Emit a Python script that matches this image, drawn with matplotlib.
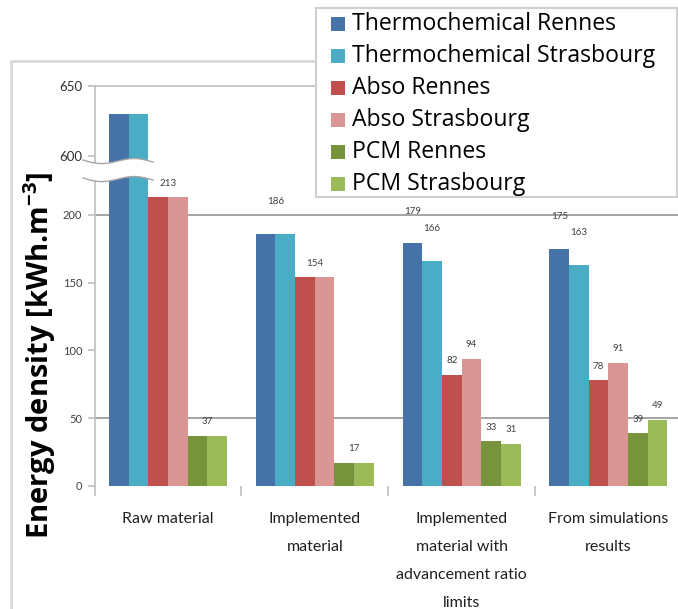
import numpy as np
import matplotlib
matplotlib.use('Agg')
from matplotlib import pyplot as plt
from matplotlib.patches import Rectangle, Polygon
from matplotlib.lines import Line2D

plt.rcParams['font.family'] = ['Lato', 'DejaVu Sans']
plt.rcParams['mathtext.fontset'] = 'custom'
plt.rcParams['mathtext.rm'] = 'Open Sans'
plt.rcParams['mathtext.bf'] = 'Open Sans:bold'

categories = ['Raw material', 'Implemented\nmaterial',
              'Implemented\nmaterial with\nadvancement ratio\nlimits',
              'From simulations\nresults']
series_names = ['Thermochemical Rennes', 'Thermochemical Strasbourg',
                'Abso Rennes', 'Abso Strasbourg',
                'PCM Rennes', 'PCM Strasbourg']
therm_rennes = [630, 186, 179, 175]
therm_stras = [630, 186, 166, 163]
abso_rennes = [213, 154, 82, 78]
abso_stras = [213, 154, 94, 91]
pcm_rennes = [37, 17, 33, 39]
pcm_stras = [37, 17, 31, 49]
series = [therm_rennes, therm_stras, abso_rennes, abso_stras, pcm_rennes, pcm_stras]
colors = ['#4572a7', '#4bacc6', '#c0504d', '#d99694', '#77933c', '#9bbb59']

W, H = 678, 609
fig = plt.figure(figsize=(W / 100, H / 100), dpi=100)


def fx(px):
    return px / W


def fy(py):
    return 1 - py / H


left, width = 94.6, 587.2
low_lim = (0, 233)
top_lim = (589.6, 650)
ax_low = fig.add_axes([fx(left), fy(486), fx(width), 316 / H])
ax_top = fig.add_axes([fx(left), fy(170), fx(width), 84 / H], sharex=ax_low)

grid_col = '#8c8c8c'
axis_col = '#bfbfbf'
tick_txt = '#404040'

idx = np.arange(len(categories))
bw = 0.134
for ax in (ax_low, ax_top):
    for k, vals in enumerate(series):
        ax.bar(idx + (k - 2.5) * bw, vals, width=bw, color=colors[k],
               edgecolor='none', zorder=3)
    for s in ('top', 'right', 'bottom'):
        ax.spines[s].set_visible(False)
    ax.spines['left'].set_color(axis_col)
    ax.spines['left'].set_linewidth(1.2)
    ax.tick_params(axis='y', length=5, width=1.2, color=axis_col,
                   labelcolor=tick_txt, pad=4)
    ax.set_xlim(-0.5, 3.5)

ax_low.set_ylim(*low_lim)
ax_top.set_ylim(*top_lim)
ax_low.set_yticks([0, 50, 100, 150, 200])
ax_low.tick_params(axis='y', labelsize=8)
ax_top.set_yticks([600, 650])
ax_top.tick_params(axis='y', labelsize=9.5, labelcolor='#303030')

# gridlines
for v in (50, 200):
    ax_low.axhline(v, color=grid_col, lw=1.1, zorder=1)
ax_top.axhline(650, color=axis_col, lw=1.2, zorder=1, clip_on=False)

# category axis
ax_low.set_xticks(idx)
ax_low.set_xticklabels(categories, fontsize=11.5, color='#202020', linespacing=2.25)
ax_low.tick_params(axis='x', length=0, pad=19)
ax_low.set_xticks(np.arange(-0.5, 4, 1), minor=True)
ax_low.tick_params(axis='x', which='minor', length=7, width=1.2, color=axis_col)
ax_top.tick_params(axis='x', which='both', length=0, labelbottom=False)

# value labels (equal pairs get one label over both bars)
for k in range(0, 6, 2):
    a, b = series[k], series[k + 1]
    off = 32 if k == 0 else 14
    for i in range(len(categories)):
        if a[i] == b[i]:
            if a[i] > low_lim[1]:
                continue
            spots = [(idx[i] + (k - 2.0) * bw, a[i])]
        else:
            spots = [(idx[i] + (k - 2.5) * bw, a[i]),
                     (idx[i] + (k - 1.5) * bw, b[i])]
        for xv, yv in spots:
            ax_low.annotate(str(yv), (xv, yv), xytext=(0, off * 0.72),
                            textcoords='offset points', ha='center', va='center',
                            fontsize=7, color=tick_txt, zorder=5)

# axis break across the tall bars
xs = np.linspace(83, 153, 60)
top_wave = 160 + 3 * np.sin((xs - 83) / 70 * 2 * np.pi) + (xs - 83) * 0.03
bot_wave = top_wave + 18
band = np.vstack([np.column_stack([xs, top_wave]),
                  np.column_stack([xs[::-1], bot_wave[::-1]])])
fig.add_artist(Polygon(np.column_stack([fx(band[:, 0]), fy(band[:, 1])]),
                       closed=True, facecolor='white', edgecolor='none',
                       transform=fig.transFigure, zorder=10))
for wave in (top_wave, bot_wave):
    fig.add_artist(Line2D(fx(xs), fy(wave), color='#a6a6a6', lw=1,
                          transform=fig.transFigure, zorder=11))

fig.text(fx(40), fy(355), r'Energy density [kWh.m$^{\mathbf{-3}}$]', rotation=90,
         ha='center', va='center', fontsize=21, fontweight='bold',
         family='Open Sans', color='black')

# chart area outline
fig.add_artist(Rectangle((fx(11), fy(700)), fx(700), 639 / H, fill=False,
                         edgecolor='#d9d9d9', lw=2, transform=fig.transFigure,
                         zorder=0))

# legend box
box = Rectangle((fx(316), fy(197)), fx(361), 189 / H, facecolor='white',
                edgecolor='#d0d0d0', lw=1.5, transform=fig.transFigure, zorder=20)
fig.add_artist(box)
for k, name in enumerate(series_names):
    yc = 24 + k * 32
    fig.add_artist(Rectangle((fx(331), fy(yc + 7)), fx(14), 14 / H,
                             facecolor=colors[k], edgecolor='none',
                             transform=fig.transFigure, zorder=21))
    t = fig.text(fx(352), fy(yc), name, ha='left', va='center', fontsize=16.6,
                 family='Open Sans', color='black', zorder=22)
    t.set_clip_path(box)

plt.savefig('out.png', dpi=100)
print('Complete')
